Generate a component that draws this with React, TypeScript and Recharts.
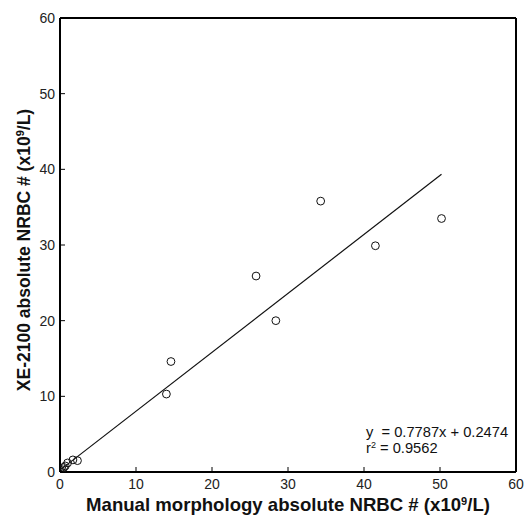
import React from 'react';
import { ScatterChart, Scatter, XAxis, YAxis, ReferenceLine, Customized } from 'recharts';

const manualX = [0, 0.1, 0.3, 0.5, 0.7, 1.0, 1.7, 2.3, 14.0, 14.6, 25.8, 28.4, 34.3, 41.5, 50.2];
const xeY = [0, 0.2, 0.3, 0.6, 0.8, 1.2, 1.6, 1.5, 10.3, 14.6, 25.9, 20.0, 35.8, 29.9, 33.5];
const ticks = [0, 10, 20, 30, 40, 50, 60];
const fitSlope = 0.7787;
const fitIntercept = 0.2474;
const rSquared = '0.9562';
const fitRange = [0, 50.2];

const points = manualX.map((x, i) => ({ x, y: xeY[i] }));

const FONT = '"Liberation Sans", Arial, Helvetica, sans-serif';

const Circle = (props: any) => {
  const { cx, cy } = props;
  return <circle cx={cx} cy={cy} r={3.9} fill="none" stroke="#111" strokeWidth={1} />;
};

const Overlay = () => (
  <g fontFamily={FONT}>
    <text x={366} y={437} fontSize={14.7} fill="#111" style={{ whiteSpace: 'pre' }}>{`y  = ${fitSlope}x + ${fitIntercept}`}</text>
    <text x={366} y={453} fontSize={14.7} fill="#111" style={{ whiteSpace: 'pre' }}>
      r<tspan dy={-5} fontSize={9}>2</tspan><tspan dy={5}>{` = ${rSquared}`}</tspan>
    </text>
    <text x={288} y={511} textAnchor="middle" fontSize={18.6} fontWeight="bold" fill="#111">
      Manual morphology absolute NRBC # (x10<tspan dy={-6} fontSize={11}>9</tspan><tspan dy={6}>/L)</tspan>
    </text>
    <text x={0} y={0} transform="translate(30,250) rotate(-90)" textAnchor="middle" fontSize={17.5} fontWeight="bold" fill="#111">
      XE-2100 absolute NRBC # (x10<tspan dy={-6} fontSize={11}>9</tspan><tspan dy={6}>/L)</tspan>
    </text>
  </g>
);

export default function App() {
  return (
    <div style={{ position: 'absolute', left: 0, top: 0, background: '#fff' }}>
      <ScatterChart width={527} height={516} margin={{ top: 18, right: 11, bottom: 0, left: 0 }}>
        <XAxis
          type="number"
          dataKey="x"
          domain={[0, 60]}
          ticks={ticks}
          height={44}
          tickSize={-5}
          tickMargin={12}
          axisLine={{ stroke: '#000', strokeWidth: 2 }}
          tickLine={{ stroke: '#000', strokeWidth: 1 }}
          tick={{ fill: '#222', fontSize: 14, fontFamily: FONT }}
          allowDataOverflow
        />
        <YAxis
          type="number"
          dataKey="y"
          domain={[0, 60]}
          ticks={ticks}
          width={60}
          tickSize={-5}
          tickMargin={10}
          axisLine={{ stroke: '#000', strokeWidth: 2 }}
          tickLine={{ stroke: '#000', strokeWidth: 1 }}
          tick={{ fill: '#222', fontSize: 14, fontFamily: FONT }}
          allowDataOverflow
        />
        <ReferenceLine y={60} stroke="#000" strokeWidth={2} />
        <ReferenceLine x={60} stroke="#000" strokeWidth={2} />
        <ReferenceLine
          segment={[
            { x: fitRange[0], y: fitSlope * fitRange[0] + fitIntercept },
            { x: fitRange[1], y: fitSlope * fitRange[1] + fitIntercept },
          ]}
          stroke="#111"
          strokeWidth={1.2}
        />
        <Scatter data={points} shape={<Circle />} isAnimationActive={false} />
        <Customized component={Overlay} />
      </ScatterChart>
    </div>
  );
}
